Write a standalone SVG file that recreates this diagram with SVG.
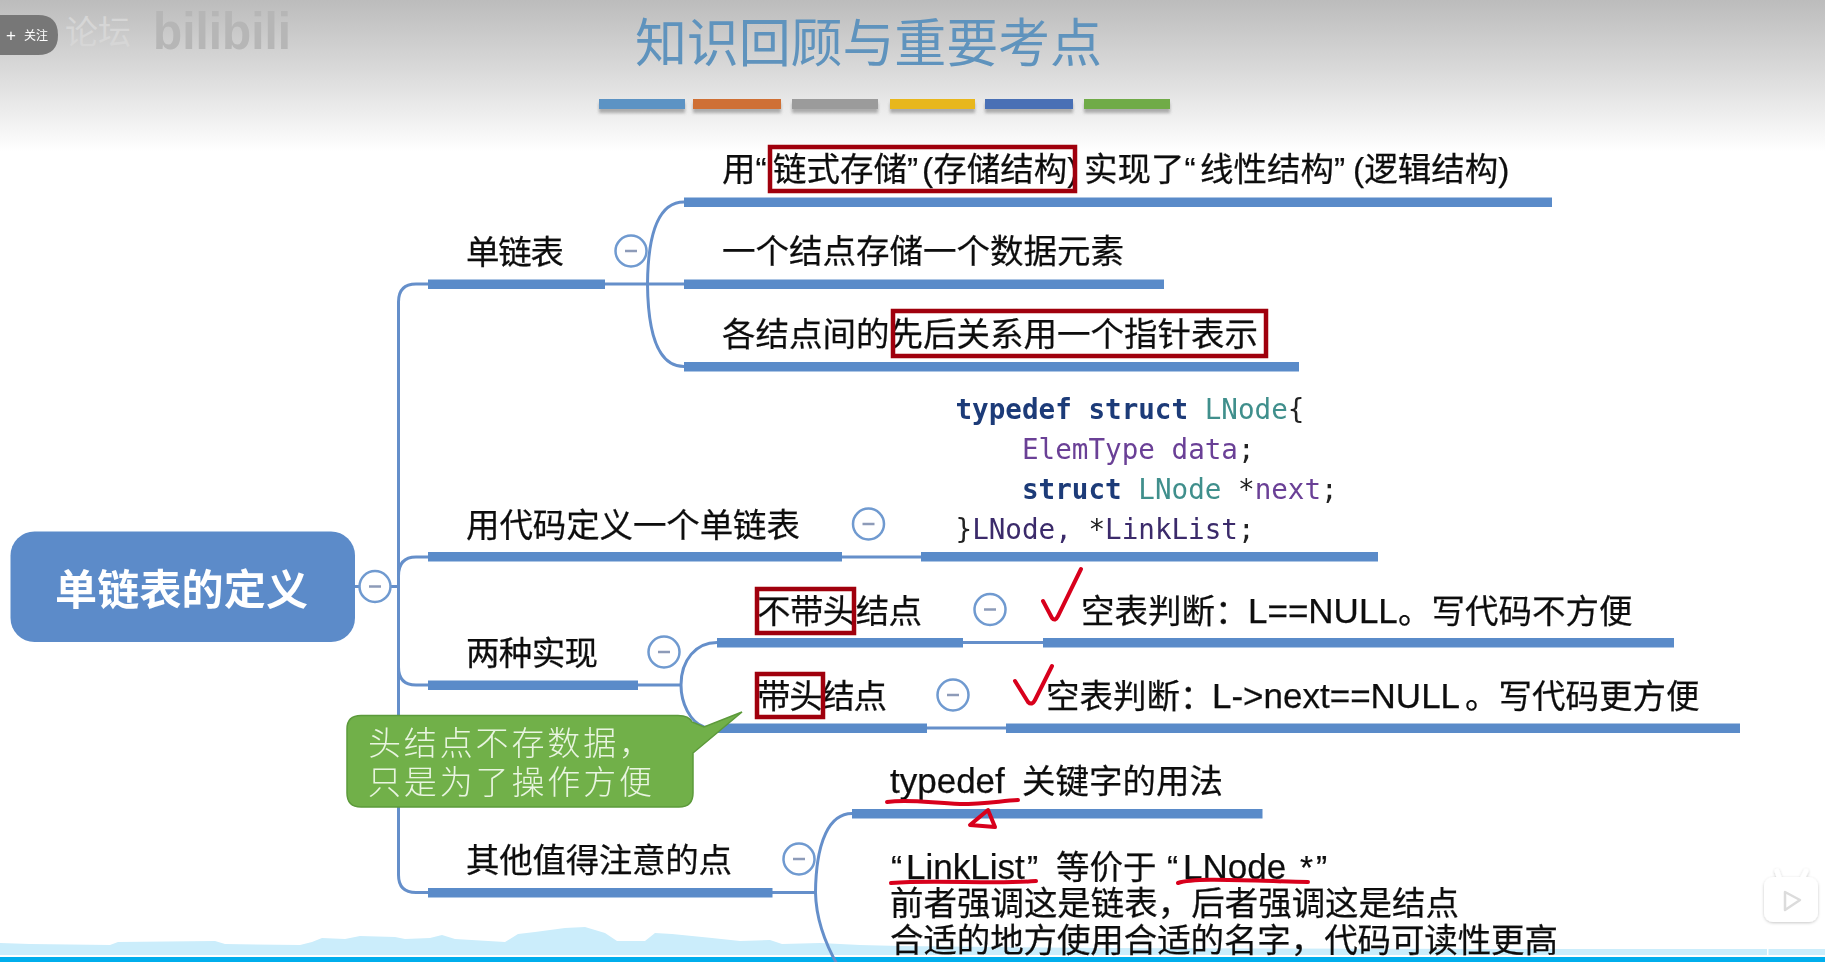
<svg xmlns="http://www.w3.org/2000/svg" width="1825" height="962" viewBox="0 0 1825 962">
<style>
text{font-family:"Liberation Sans","Noto Sans CJK SC",sans-serif;fill:#111}
.t{font-size:33.5px;stroke:#111;stroke-width:.25px}
.en{font-size:35px}
.code{font-family:"DejaVu Sans Mono","Liberation Mono",monospace;font-size:27.6px;fill:#3a2a6a}
.kw{font-weight:700;fill:#1d3a78}
.ty{fill:#3f8f8c}
.pu{fill:#6a3f96}
.ink{fill:#222}
.bar{fill:#5a8bc9}
.line{fill:none;stroke:#658fca;stroke-width:3}
.col circle{fill:#fff;stroke:#6f9ad0;stroke-width:2.5}
.col line{stroke:#8d9bb8;stroke-width:2.5}
.box{fill:none;stroke:#a00010;stroke-width:4.5}
.red{fill:none;stroke:#d8001c;stroke-width:4;stroke-linecap:round;stroke-linejoin:round}
</style>
<defs>
<linearGradient id="hd" x1="0" y1="0" x2="0" y2="1"><stop offset="0" stop-color="#bcbcbc"/><stop offset="0.5" stop-color="#dcdcdc"/><stop offset="1" stop-color="#ffffff"/></linearGradient>
<filter id="soft" x="-5%" y="-5%" width="110%" height="110%"><feGaussianBlur stdDeviation="0.55"/></filter>
<filter id="sh" x="-10%" y="-60%" width="120%" height="220%"><feGaussianBlur stdDeviation="1.6"/></filter>
<filter id="ish" x="-20%" y="-20%" width="140%" height="140%"><feDropShadow dx="0" dy="1" stdDeviation="1.5" flood-color="#000" flood-opacity="0.22"/></filter>
</defs>
<rect width="1825" height="962" fill="#fff"/>
<rect width="1825" height="152" fill="url(#hd)"/>
<g id="watermark">
<text x="65" y="44" font-size="33" style="fill:#d6d6d6">论坛</text>
<text x="153" y="49" font-size="52" font-weight="700" textLength="138" lengthAdjust="spacingAndGlyphs" style="fill:#b6b6b6">bilibili</text>
</g>
<g id="skyline">
<path fill="#cbedfb" d="M0 943 L30 944 L110 945 L118 942 L215 941 L225 944 L300 945 L312 942 L322 938 L345 939 L360 936 L395 937 L405 939 L430 938 L442 935 L455 939 L505 942 L518 934 L535 932 L565 928 L585 927 L605 933 L617 941 L645 941 L655 933 L672 934 L712 938 L740 941 L770 940 L782 944 L820 943 L860 945 L900 946 L1100 948 L1500 949 L1825 949 V955 H0 Z"/>
<rect y="957" width="1825" height="5" fill="#00aeec"/>
<rect x="1767" y="949" width="1.5" height="6" fill="#fff"/>
</g>
<g filter="url(#soft)">
<g id="title">
<text x="635" y="62" font-size="52" textLength="467" style="fill:#5f93bd;font-family:'Noto Sans CJK SC',sans-serif">知识回顾与重要考点</text>
<g filter="url(#sh)" fill="#777" opacity="0.55"><rect x="599" y="103" width="86" height="10"/><rect x="693" y="103" width="88" height="10"/><rect x="792" y="103" width="86" height="10"/><rect x="890" y="103" width="85" height="10"/><rect x="985" y="103" width="88" height="10"/><rect x="1084" y="103" width="86" height="10"/></g>
<rect x="599" y="99" width="86" height="10" fill="#5b93c4"/>
<rect x="693" y="99" width="88" height="10" fill="#cf7035"/>
<rect x="792" y="99" width="86" height="10" fill="#9b9b9b"/>
<rect x="890" y="99" width="85" height="10" fill="#e8b71a"/>
<rect x="985" y="99" width="88" height="10" fill="#4a6fb5"/>
<rect x="1084" y="99" width="86" height="10" fill="#6fab46"/>
</g>
<g id="connectors">
<path class="line" d="M355 586.5H398.5"/>
<path class="line" d="M428 284H416Q398.5 284 398.5 302V875Q398.5 892.5 416 892.5H428"/>
<path class="line" d="M398.5 576Q398.5 557 416 557H428"/>
<path class="line" d="M398.5 667Q398.5 685 416 685H428"/>
<path class="line" d="M605 284H684"/>
<path class="line" d="M684 202C660 202 648 230 647.5 284C648 338 660 366.5 684 366.5"/>
<path class="line" d="M842 557H921"/>
<path class="line" d="M638 685H681"/>
<path class="line" d="M717 642.5C696 642.5 681 660 681 685C681 703 690 722 704 727L717 728"/>
<path class="line" d="M963 642.5H1043"/>
<path class="line" d="M927 728H1006"/>
<path class="line" d="M772 892.5H815.5"/>
<path class="line" d="M852 813.5C830 813.5 816 840 815.5 892.5C816 920 826 945 838 966"/>
</g>
<g id="root">
<rect x="10.5" y="531.5" width="344.5" height="110.5" rx="24" fill="#5b8bc9"/>
<text x="55" y="605" font-size="42" font-weight="700" textLength="253" style="fill:#fff;font-family:'Noto Sans CJK SC',sans-serif">单链表的定义</text>
<g class="col"><circle cx="375" cy="586.5" r="15.5"/><line x1="369" y1="586.5" x2="381" y2="586.5"/></g>
</g>
<g id="n-singly">
<rect class="bar" x="428" y="279.5" width="177" height="9.5"/>
<text class="t" x="466" y="264" textLength="98">单链表</text>
<g class="col"><circle cx="631" cy="251" r="15.5"/><line x1="625" y1="251" x2="637" y2="251"/></g>
</g>
<g id="n-s1">
<rect class="bar" x="684" y="197.5" width="868" height="9.5"/>
<text class="t" y="181"><tspan x="722">用“</tspan><tspan x="773">链式存储”</tspan><tspan x="922">(存储结构)</tspan><tspan x="1084">实现了“</tspan><tspan x="1200">线性结构”</tspan><tspan x="1353">(逻辑结构)</tspan></text>
<rect class="box" x="770" y="147" width="305" height="44"/>
</g>
<g id="n-s2">
<rect class="bar" x="684" y="279.5" width="480" height="9.5"/>
<text class="t" x="722" y="263" textLength="402">一个结点存储一个数据元素</text>
</g>
<g id="n-s3">
<rect class="bar" x="684" y="362" width="615" height="9.5"/>
<text class="t" x="722" y="346" textLength="536">各结点间的先后关系用一个指针表示</text>
<rect class="box" x="893" y="311" width="373" height="45"/>
</g>
<g id="n-code">
<rect class="bar" x="428" y="552" width="414" height="9.5"/>
<text class="t" x="466" y="537" textLength="334">用代码定义一个单链表</text>
<g class="col"><circle cx="868.5" cy="524" r="15.5"/><line x1="862.5" y1="524" x2="874.5" y2="524"/></g>
</g>
<g id="n-code-body">
<rect class="bar" x="921" y="552" width="457" height="9.5"/>
<text class="code" xml:space="preserve" x="955.5" y="419"><tspan class="kw">typedef struct</tspan> <tspan class="ty">LNode</tspan><tspan class="ink">{</tspan></text>
<text class="code" xml:space="preserve" x="1022" y="459"><tspan class="pu">ElemType data</tspan><tspan class="ink">;</tspan></text>
<text class="code" xml:space="preserve" x="1022" y="499"><tspan class="kw">struct</tspan> <tspan class="ty">LNode</tspan> <tspan class="ink">*</tspan><tspan class="pu">next</tspan><tspan class="ink">;</tspan></text>
<text class="code" xml:space="preserve" x="955.5" y="539"><tspan class="ink">}</tspan>LNode, <tspan class="ink">*</tspan>LinkList<tspan class="ink">;</tspan></text>
</g>
<g id="n-impl">
<rect class="bar" x="428" y="680.5" width="210" height="9.5"/>
<text class="t" x="466" y="665" textLength="132">两种实现</text>
<g class="col"><circle cx="664" cy="652" r="15.5"/><line x1="658" y1="652" x2="670" y2="652"/></g>
</g>
<g id="n-nohead">
<rect class="bar" x="717" y="638" width="246" height="9.5"/>
<text class="t" x="757" y="623" textLength="165">不带头结点</text>
<rect class="box" x="757" y="589" width="97" height="44"/>
<g class="col"><circle cx="990" cy="609.5" r="15.5"/><line x1="984" y1="609.5" x2="996" y2="609.5"/></g>
</g>
<g id="n-nohead-note">
<rect class="bar" x="1043" y="638" width="631" height="9.5"/>
<text class="t" y="623"><tspan x="1081">空表判断&#xFF1A;</tspan><tspan class="en" x="1248">L==NULL</tspan><tspan x="1398">&#x3002;写代码不方便</tspan></text>
</g>
<g id="n-head">
<rect class="bar" x="717" y="723.5" width="210" height="9.5"/>
<text class="t" x="757" y="708" textLength="130">带头结点</text>
<rect class="box" x="757" y="674" width="66" height="43"/>
<g class="col"><circle cx="953" cy="695" r="15.5"/><line x1="947" y1="695" x2="959" y2="695"/></g>
</g>
<g id="n-head-note">
<rect class="bar" x="1006" y="723.5" width="734" height="9.5"/>
<text class="t" y="708"><tspan x="1046">空表判断&#xFF1A;</tspan><tspan class="en" x="1212">L-&gt;next==NULL</tspan><tspan x="1465">&#x3002;写代码更方便</tspan></text>
</g>
<g id="n-other">
<rect class="bar" x="428" y="888" width="344.5" height="9.5"/>
<text class="t" x="466" y="872" textLength="266">其他值得注意的点</text>
<g class="col"><circle cx="799" cy="859" r="15.5"/><line x1="793" y1="859" x2="805" y2="859"/></g>
</g>
<g id="n-o1">
<rect class="bar" x="852" y="809" width="410.5" height="9.5"/>
<text class="t" y="793"><tspan class="en" x="890">typedef</tspan><tspan x="1022">关键字的用法</tspan></text>
</g>
<g id="n-o2">
<text class="t" y="879"><tspan x="891">“</tspan><tspan class="en" x="906">LinkList</tspan><tspan x="1027">”</tspan><tspan x="1056">等价于</tspan><tspan x="1167">“</tspan><tspan class="en" x="1183">LNode</tspan><tspan x="1300">*</tspan><tspan x="1316">”</tspan></text>
<text class="t" x="890" y="915" textLength="569">前者强调这是链表&#xFF0C;后者强调这是结点</text>
<text class="t" x="890" y="952" textLength="668">合适的地方使用合适的名字&#xFF0C;代码可读性更高</text>
</g>
<g id="callout">
<path d="M361 715.5H678Q689 715.5 692 722L704 727L742 712L693 753V793Q693 807 679 807H361Q347 807 347 793V729Q347 715.5 361 715.5Z" fill="#71b04a" stroke="#5c9a3a" stroke-width="1.5"/>
<text x="368" y="755" font-size="33" textLength="284" style="fill:#e9f5e0;font-family:'Noto Sans CJK SC',sans-serif;font-weight:300">头结点不存数据&#xFF0C;</text>
<text x="368" y="794" font-size="33" textLength="284" style="fill:#e9f5e0;font-family:'Noto Sans CJK SC',sans-serif;font-weight:300">只是为了操作方便</text>
</g>
<g id="ink">
<path class="red" d="M1043 601L1052 618Q1055 622 1058 616L1081 569"/>
<path class="red" d="M1015 681L1028 702Q1032 706 1035 700L1052 666"/>
<path class="red" d="M887 802C910 799 930 803 960 804C985 804 1000 801 1018 800"/>
<path class="red" d="M988 810L970 825L995 827Z"/>
<path class="red" d="M891 883C940 879 990 885 1036 881"/>
<path class="red" d="M1178 883C1195 877 1250 881 1308 882"/>
</g>
</g>
<g id="follow">
<path d="M0 15H38Q58 15 58 35Q58 55 38 55H0Z" fill="#777"/>
<text x="6" y="41" font-size="17" style="fill:#fff">+</text>
<text x="24" y="40" font-size="12" style="fill:#fff;font-family:'Noto Sans CJK SC',sans-serif">关注</text>
</g>
<g id="play" filter="url(#ish)">
<path d="M1779 877L1777 871M1803 877L1806 871" stroke="#fff" stroke-width="5" stroke-linecap="round"/>
<rect x="1764" y="877" width="54" height="45" rx="9" fill="#fff"/>
<path d="M1785 892L1800 900L1785 910Z" fill="#fff" stroke="#dcdcdc" stroke-width="2.5" stroke-linejoin="round"/>
</g>
</svg>
